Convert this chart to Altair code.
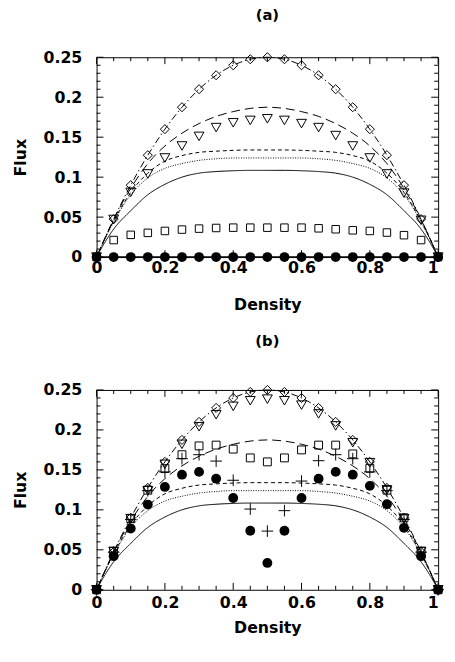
import altair as alt
import pandas as pd

# ---------------- data ----------------
rho = [0.0, 0.05, 0.1, 0.15, 0.2, 0.25, 0.3, 0.35, 0.4, 0.45, 0.5,
       0.55, 0.6, 0.65, 0.7, 0.75, 0.8, 0.85, 0.9, 0.95, 1.0]

# panel (a) markers
diamond_a = [0, 0.0475, 0.09, 0.1275, 0.16, 0.1875, 0.21, 0.2275, 0.24, 0.2475, 0.25,
             0.2475, 0.24, 0.2275, 0.21, 0.1875, 0.16, 0.1275, 0.09, 0.0475, 0]
triangle_a = [0, 0.047, 0.081, 0.104, 0.124, 0.139, 0.151, 0.162, 0.168, 0.171, 0.173,
              0.171, 0.167, 0.162, 0.152, 0.139, 0.124, 0.104, 0.080, 0.046, 0]
square_a = [0, 0.0213, 0.0278, 0.0303, 0.0327, 0.0344, 0.0356, 0.0364, 0.0368, 0.0368, 0.0368,
            0.0368, 0.0368, 0.036, 0.0348, 0.0335, 0.0327, 0.0307, 0.0274, 0.0213, 0]
circle_a = [0, 0, 0, 0, 0, 0, 0, 0, 0, 0, 0, 0, 0, 0, 0, 0, 0, 0, 0, 0, 0]

# panel (b) markers
diamond_b = [0, 0.0475, 0.09, 0.1275, 0.16, 0.1875, 0.21, 0.2275, 0.24, 0.2475, 0.25,
             0.2475, 0.24, 0.2275, 0.21, 0.1875, 0.16, 0.1275, 0.09, 0.0475, 0]
triangle_b = [0, 0.048, 0.089, 0.124, 0.157, 0.182, 0.204, 0.219, 0.2295, 0.2365, 0.2385,
              0.2365, 0.231, 0.220, 0.205, 0.184, 0.159, 0.125, 0.089, 0.048, 0]
square_b = [0, 0.048, 0.089, 0.1246, 0.1516, 0.169, 0.180, 0.181, 0.176, 0.165, 0.160,
            0.165, 0.175, 0.181, 0.181, 0.170, 0.152, 0.1246, 0.090, 0.048, 0]
plus_b = [0, 0.047, 0.088, 0.124, 0.1475, 0.164, 0.169, 0.161, 0.137, 0.101, 0.0734,
          0.099, 0.136, 0.1615, 0.169, 0.164, 0.1475, 0.124, 0.088, 0.047, 0]
circle_b = [0, 0.042, 0.0766, 0.1066, 0.1287, 0.144, 0.1475, 0.139, 0.1148, 0.0738, 0.0336,
            0.0738, 0.1148, 0.139, 0.1475, 0.144, 0.130, 0.107, 0.0775, 0.042, 0]

# theory curves (same in both panels)
curve_rho = [0.0, 0.025, 0.05, 0.1, 0.15, 0.2, 0.25, 0.3, 0.35, 0.4, 0.45, 0.5,
             0.55, 0.6, 0.65, 0.7, 0.75, 0.8, 0.85, 0.9, 0.95, 0.975, 1.0]
curve_dashdot = [0, 0.0244, 0.0475, 0.09, 0.1275, 0.16, 0.1875, 0.21, 0.2275, 0.24, 0.2475, 0.25,
                 0.2475, 0.24, 0.2275, 0.21, 0.1875, 0.16, 0.1275, 0.09, 0.0475, 0.0244, 0]
curve_longdash = [0, 0.024, 0.047, 0.086, 0.117, 0.139, 0.155, 0.167, 0.176, 0.182, 0.186, 0.1875,
                  0.186, 0.182, 0.176, 0.167, 0.155, 0.139, 0.117, 0.086, 0.047, 0.024, 0]
curve_shortdash = [0, 0.024, 0.045, 0.081, 0.105, 0.120, 0.127, 0.131, 0.1325, 0.1335, 0.134, 0.134,
                   0.134, 0.1335, 0.1325, 0.131, 0.127, 0.120, 0.105, 0.081, 0.045, 0.024, 0]
curve_dotted = [0, 0.023, 0.044, 0.078, 0.099, 0.111, 0.117, 0.121, 0.123, 0.124, 0.124, 0.124,
                0.124, 0.124, 0.123, 0.121, 0.117, 0.111, 0.099, 0.078, 0.044, 0.023, 0]
curve_solid = [0, 0.019, 0.035, 0.058, 0.078, 0.091, 0.100, 0.105, 0.107, 0.108, 0.1085, 0.1085,
               0.1085, 0.108, 0.107, 0.105, 0.100, 0.091, 0.078, 0.058, 0.035, 0.019, 0]

# axis ticks / labels
x_major = [0, 0.2, 0.4, 0.6, 0.8, 1.0]
x_minor = [0.05, 0.1, 0.15, 0.25, 0.3, 0.35, 0.45, 0.5, 0.55, 0.65, 0.7, 0.75, 0.85, 0.9, 0.95]
y_major = [0, 0.05, 0.1, 0.15, 0.2, 0.25]
y_minor = [0.01, 0.02, 0.03, 0.04, 0.06, 0.07, 0.08, 0.09, 0.11, 0.12, 0.13, 0.14,
           0.16, 0.17, 0.18, 0.19, 0.21, 0.22, 0.23, 0.24]

# ---------------- chart ----------------
W, H = 347, 203
MAJ, MIN = 7, 4          # tick lengths in pixels
FONT = "DejaVu Sans"
XMIN, XMAX, YMIN, YMAX = 0.0, 1.0, 0.0, 0.25
xs = alt.Scale(domain=[XMIN, XMAX], nice=False, zero=False)
ys = alt.Scale(domain=[YMIN, YMAX], nice=False, zero=False)
KX = (XMAX - XMIN) / W   # data units per pixel
KY = (YMAX - YMIN) / H

curve_names = ["dashdot", "longdash", "shortdash", "dotted", "solid"]
curve_vals = [curve_dashdot, curve_longdash, curve_shortdash, curve_dotted, curve_solid]
curves_df = pd.DataFrame([
    {"rho": r, "flux": v, "curve": n}
    for n, vals in zip(curve_names, curve_vals)
    for r, v in zip(curve_rho, vals)
])


def x_tick_df(vals, ln):
    rows = []
    for v in vals:
        rows.append({"rho": v, "flux": YMIN + ln / 2 * KY})
        rows.append({"rho": v, "flux": YMAX - ln / 2 * KY})
    return pd.DataFrame(rows)


def y_tick_df(vals, ln):
    rows = []
    for v in vals:
        rows.append({"rho": XMIN + ln / 2 * KX, "flux": v})
        rows.append({"rho": XMAX - ln / 2 * KX, "flux": v})
    return pd.DataFrame(rows)


XN = alt.X("rho:Q", scale=xs, axis=None)
YN = alt.Y("flux:Q", scale=ys, axis=None)


def x_axis(label_pad, title_pad):
    return alt.Axis(orient="bottom", values=x_major, format="~g", ticks=False, tickSize=0,
                    domain=False, grid=False, labelPadding=label_pad, labelFlush=False,
                    labelOverlap=False, title="Density", titlePadding=title_pad,
                    labelAlign=alt.condition("datum.value == 1", alt.value("right"),
                                             alt.value("center")))


YAX = alt.Axis(orient="left", values=y_major, format="~g", ticks=False, tickSize=0,
               domain=False, grid=False, labelPadding=15, labelOverlap=False,
               title="Flux", titlePadding=15)


def pts(vals):
    return pd.DataFrame({"rho": rho, "flux": vals})


def tick_layers():
    out = []
    for vals, ln in ((x_major, MAJ), (x_minor, MIN)):
        out.append(alt.Chart(x_tick_df(vals, ln)).mark_point(
            shape="M0,-1L0,1", size=ln * ln, filled=False, color="black",
            strokeWidth=1, opacity=1).encode(x=XN, y=YN))
    for vals, ln in ((y_major, MAJ), (y_minor, MIN)):
        out.append(alt.Chart(y_tick_df(vals, ln)).mark_point(
            shape="M-1,0L1,0", size=ln * ln, filled=False, color="black",
            strokeWidth=1, opacity=1).encode(x=XN, y=YN))
    return out


def panel(title, markers, zero_line, title_offset, label_pad, title_pad):
    lines = alt.Chart(curves_df).mark_line(color="black", strokeWidth=1,
                                           interpolate="monotone").encode(
        x=alt.X("rho:Q", scale=xs, axis=x_axis(label_pad, title_pad)),
        y=alt.Y("flux:Q", scale=ys, axis=YAX),
        strokeDash=alt.StrokeDash("curve:N",
                                  scale=alt.Scale(domain=curve_names,
                                                  range=[[7, 3, 1.5, 3], [9, 5], [4, 3],
                                                         [1, 1.5], [1, 0]]),
                                  legend=None),
        detail="curve:N",
    )
    layers = [lines] + tick_layers()
    if zero_line is not None:
        layers.append(alt.Chart(pts(zero_line)).mark_line(color="black", strokeWidth=1.5)
                      .encode(x=XN, y=YN))
    for mk, vals in markers:
        layers.append(alt.Chart(pts(vals)).mark_point(**mk).encode(x=XN, y=YN))
    return alt.layer(*layers).resolve_axis(x="independent", y="independent").properties(
        width=W, height=H,
        title=alt.TitleParams(title, fontSize=15, fontWeight="bold", font=FONT,
                              color="black", anchor="middle", frame="group",
                              offset=title_offset),
    )


diamond = dict(shape="diamond", filled=False, size=85, color="black", strokeWidth=1, opacity=1)
triangle = dict(shape="triangle-down", filled=False, size=100, color="black", strokeWidth=1,
                opacity=1)
square_sm = dict(shape="square", filled=False, size=58, color="black", strokeWidth=1, opacity=1)
square = dict(shape="square", filled=False, size=64, color="black", strokeWidth=1, opacity=1)
circle = dict(shape="circle", filled=True, size=100, color="black", opacity=1)
plus = dict(shape="M-1,0L1,0M0,-1L0,1", filled=False, size=140, color="black", strokeWidth=1,
            opacity=1)

panel_a = panel("(a)", [(diamond, diamond_a), (triangle, triangle_a), (square_sm, square_a),
                        (circle, circle_a)], circle_a, 27, 3, 21)
panel_b = panel("(b)", [(diamond, diamond_b), (triangle, triangle_b), (square, square_b),
                        (circle, circle_b), (plus, plus_b)], None, 34, 5, 9)

chart = alt.vconcat(panel_a, panel_b, spacing=20).properties(
    padding={"left": 4, "top": -6, "right": 0, "bottom": 0}
).configure_view(stroke="black", strokeWidth=1).configure_axis(
    labelFont=FONT, labelFontSize=16, labelFontWeight="bold", labelColor="black",
    titleFont=FONT, titleFontSize=16, titleFontWeight="bold", titleColor="black",
)

chart.save("out.html", embed_options={"renderer": "svg", "actions": False})
